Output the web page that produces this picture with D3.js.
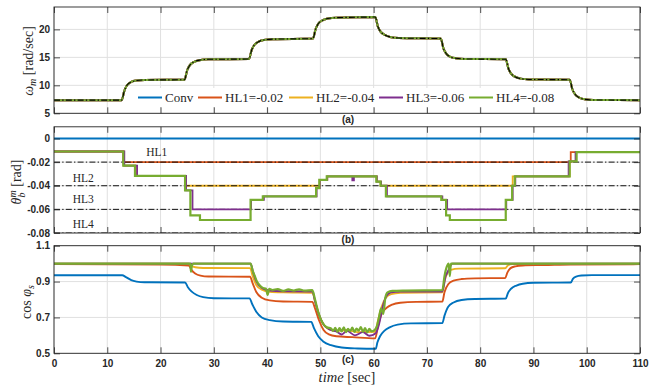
<!DOCTYPE html>
<html>
<head>
<meta charset="utf-8">
<script src="https://cdn.jsdelivr.net/npm/d3@7"></script>
<style>
  body { margin: 0; background: #fff; }
  svg { display: block; }
  .tick text { font-family: "Liberation Sans", Arial, sans-serif; font-weight: bold; font-size: 10px; fill: #262626; }
  .serif { font-family: "Liberation Serif", "Times New Roman", serif; fill: #262626; }
  .ptitle { font-family: "Liberation Sans", Arial, sans-serif; font-weight: bold; font-size: 10px; fill: #262626; }
</style>
</head>
<body>
<svg id="chart" width="649" height="390"></svg>
<script>
// ---- data ----
const timeTicks = [0, 10, 20, 30, 40, 50, 60, 70, 80, 90, 100, 110];
const seriesNames = ["Conv", "HL1=-0.02", "HL2=-0.04", "HL3=-0.06", "HL4=-0.08"];
const seriesColors = ["#0072BD", "#D95319", "#EDB120", "#7E2F8E", "#77AC30"];

const omegaTicks = [5, 10, 15, 20];
const omegaTickLabels = ["5", "10", "15", "20"];
const thetaTicks = [-0.08, -0.06, -0.04, -0.02, 0];
const thetaTickLabels = ["-0.08", "-0.06", "-0.04", "-0.02", "0"];
const cosTicks = [0.5, 0.7, 0.9, 1.1];
const cosTickLabels = ["0.5", "0.7", "0.9", "1.1"];

const hlLimits = [-0.02, -0.04, -0.06, -0.08];
const hlNames = ["HL1", "HL2", "HL3", "HL4"];

// rotor speed [rad/sec], [time, value]; all five drives track it closely
const omegaMeasured = [
  [0, 7.35], [12.7, 7.35], [13.2, 9.0], [13.7, 10.0], [14.5, 10.6], [15.5, 10.85], [17, 10.95], [24.5, 11.0],
  [25.0, 12.7], [25.5, 13.6], [26.3, 14.2], [27.3, 14.5], [29, 14.65], [36.6, 14.7],
  [37.1, 16.3], [37.6, 17.2], [38.4, 17.8], [39.4, 18.1], [41, 18.25], [48.6, 18.35],
  [49.1, 20.0], [49.6, 21.0], [50.4, 21.6], [51.4, 21.95], [53, 22.1], [60.3, 22.2],
  [60.8, 20.5], [61.3, 19.6], [62.1, 19.0], [63.1, 18.65], [64.7, 18.45], [72.6, 18.35],
  [73.1, 16.6], [73.6, 15.7], [74.4, 15.1], [75.4, 14.85], [77, 14.72], [84.8, 14.65],
  [85.3, 13.0], [85.8, 12.1], [86.6, 11.5], [87.6, 11.2], [89.2, 11.05], [96.8, 11.0],
  [97.3, 9.3], [97.8, 8.4], [98.6, 7.8], [99.6, 7.5], [101.2, 7.38], [110, 7.35]
];
const omegaReference = [
  [0, 7.35], [12.7, 7.35], [13.2, 9.0], [13.7, 10.0], [14.5, 10.6], [15.5, 10.85], [17, 10.95], [24.5, 11.0],
  [25.0, 12.7], [25.5, 13.6], [26.3, 14.2], [27.3, 14.5], [29, 14.65], [36.6, 14.7],
  [37.1, 16.3], [37.6, 17.2], [38.4, 17.8], [39.4, 18.1], [41, 18.25], [48.6, 18.35],
  [49.1, 20.0], [49.6, 21.0], [50.4, 21.6], [51.4, 21.95], [53, 22.1], [60.3, 22.2],
  [60.8, 20.5], [61.3, 19.6], [62.1, 19.0], [63.1, 18.65], [64.7, 18.45], [72.6, 18.35],
  [73.1, 16.6], [73.6, 15.7], [74.4, 15.1], [75.4, 14.85], [77, 14.72], [84.8, 14.65],
  [85.3, 13.0], [85.8, 12.1], [86.6, 11.5], [87.6, 11.2], [89.2, 11.05], [96.8, 11.0],
  [97.3, 9.3], [97.8, 8.4], [98.6, 7.8], [99.6, 7.5], [101.2, 7.38], [110, 7.35]
];

// pitch angle [rad], step-wise [time, value]
const thetaConv = [[0, 0], [110, 0]];
const thetaHL1 = [[0, -0.011], [13.0, -0.02], [97.0, -0.0115], [110, -0.0115]];
const thetaHL2 = [
  [0, -0.011], [13.1, -0.023], [15.4, -0.0316], [24.7, -0.04], [49.9, -0.035], [51.3, -0.032],
  [60.6, -0.0365], [61.3, -0.04], [86.1, -0.032], [96.8, -0.0194], [98.0, -0.0115], [110, -0.0115]
];
const thetaHL3 = [
  [0, -0.011], [13.2, -0.023], [15.6, -0.0316], [24.8, -0.044], [26.0, -0.06], [37.0, -0.052],
  [39.4, -0.049], [49.3, -0.042], [49.9, -0.035], [51.3, -0.032], [56.0, -0.0355], [56.3, -0.032],
  [60.6, -0.0365], [61.4, -0.04], [62.5, -0.049], [72.9, -0.052], [73.8, -0.06], [84.9, -0.052],
  [86.1, -0.04], [86.6, -0.032], [96.6, -0.0194], [97.9, -0.0115], [110, -0.0115]
];
const thetaHL4 = [
  [0, -0.011], [13.0, -0.023], [15.2, -0.0316], [24.6, -0.044], [25.6, -0.065], [27.4, -0.069],
  [36.9, -0.052], [39.2, -0.049], [49.2, -0.042], [49.8, -0.035], [51.2, -0.032], [60.5, -0.0365],
  [61.3, -0.04], [62.3, -0.049], [72.7, -0.052], [73.6, -0.065], [74.3, -0.069], [84.8, -0.052],
  [86.0, -0.04], [86.5, -0.032], [96.8, -0.0194], [98.1, -0.0115], [110, -0.0115]
];

// stator power factor, [time, value]
const cosConv = [
  [0, 0.935], [12.8, 0.935], [13.5, 0.925], [14.5, 0.908], [15.5, 0.90], [17, 0.896], [24.6, 0.895],
  [25.1, 0.87], [25.8, 0.845], [26.8, 0.825], [28, 0.813], [30, 0.807], [36.7, 0.806],
  [37.2, 0.775], [38, 0.73], [39, 0.70], [40.5, 0.685], [43, 0.677], [48.3, 0.675],
  [48.8, 0.64], [49.6, 0.595], [50.6, 0.565], [52, 0.545], [54, 0.532], [57, 0.527], [60.4, 0.525],
  [60.7, 0.56], [61.2, 0.595], [62, 0.625], [63, 0.645], [64.5, 0.66], [67, 0.667], [72.9, 0.668],
  [73.3, 0.71], [74, 0.76], [75, 0.783], [76.5, 0.797], [79, 0.803], [84.8, 0.805],
  [85.2, 0.835], [85.8, 0.86], [86.8, 0.878], [88, 0.888], [90, 0.893], [97, 0.895],
  [97.4, 0.915], [98, 0.928], [99, 0.934], [101, 0.936], [110, 0.936]
];
const cosHL1 = [
  [0, 0.997], [20, 0.995], [25.3, 0.99], [25.8, 0.965], [26.5, 0.945], [27.5, 0.933], [29, 0.928], [36.8, 0.927],
  [37.3, 0.89], [38, 0.84], [39, 0.81], [40.5, 0.795], [43, 0.789], [48.5, 0.787],
  [49, 0.75], [49.8, 0.68], [50.6, 0.63], [51.6, 0.605], [53, 0.595], [56, 0.59], [60.3, 0.583],
  [60.8, 0.65], [61.5, 0.72], [62.5, 0.755], [63.5, 0.772], [65, 0.782], [68, 0.787], [72.9, 0.788],
  [73.3, 0.84], [74, 0.885], [75, 0.905], [76.5, 0.914], [79, 0.918], [84.7, 0.92],
  [85.1, 0.95], [85.7, 0.975], [86.6, 0.985], [88, 0.99], [92, 0.992], [97, 0.995], [110, 0.997]
];
const cosHL2 = [
  [0, 1.0], [25.3, 1.0], [25.7, 0.99], [26.5, 0.98], [28, 0.976], [36.8, 0.975],
  [37.3, 0.93], [38, 0.88], [39, 0.855], [40.5, 0.843], [43, 0.84], [48.5, 0.838],
  [49, 0.79], [49.8, 0.71], [50.6, 0.66], [51.6, 0.635], [53, 0.625], [55, 0.63], [57, 0.618], [60.3, 0.62],
  [60.8, 0.68], [61.5, 0.76], [62.3, 0.81], [63.3, 0.83], [65, 0.838], [72.9, 0.84],
  [73.3, 0.9], [73.9, 0.95], [74.5, 0.965], [76, 0.972], [84.7, 0.974], [85.2, 0.99], [86, 0.998], [110, 1.0]
];
const cosHL3 = [
  [0, 1.0], [36.9, 1.0], [37.4, 0.95], [38, 0.9], [39, 0.865], [40.5, 0.85], [43, 0.846], [48.5, 0.845],
  [49, 0.79], [49.8, 0.71], [50.6, 0.66], [51.6, 0.635], [53, 0.622], [54, 0.605], [55, 0.625],
  [56.5, 0.60], [58, 0.618], [59.2, 0.598], [60.4, 0.612],
  [61, 0.66], [61.7, 0.76], [62.4, 0.82], [63.3, 0.84], [65, 0.845], [72.9, 0.845],
  [73.5, 0.93], [74.0, 0.96], [74.8, 1.0], [110, 1.0]
];
const cosHL4 = [
  [0, 1.0], [25.6, 1.0], [25.7, 0.955], [25.9, 0.99], [26.2, 1.0], [36.9, 1.0],
  [37.3, 0.96], [37.7, 0.93], [38.1, 0.90], [38.6, 0.88], [39.2, 0.865], [39.8, 0.86], [40.1, 0.825],
  [40.4, 0.86], [41, 0.853], [42, 0.858], [43, 0.848], [44, 0.856], [45, 0.85], [46, 0.857], [47, 0.849], [48.5, 0.852],
  [49, 0.8], [49.6, 0.73], [50.4, 0.67], [51.2, 0.645], [52, 0.638], [52.4, 0.625], [52.8, 0.642],
  [53.2, 0.62], [53.6, 0.64], [54, 0.622], [54.4, 0.645], [54.8, 0.618], [55.2, 0.636], [55.6, 0.624],
  [56, 0.643], [56.4, 0.619], [56.8, 0.638], [57.2, 0.626], [57.6, 0.646], [58, 0.62], [58.4, 0.64],
  [58.8, 0.617], [59.2, 0.637], [59.6, 0.622], [60.2, 0.63],
  [60.6, 0.65], [61.0, 0.70], [61.4, 0.75], [61.8, 0.72], [62.2, 0.81], [62.6, 0.84], [63.5, 0.848],
  [66, 0.85], [72.9, 0.852], [73.3, 0.93], [73.7, 0.98], [74.1, 1.0], [74.3, 0.93], [74.5, 1.0], [110, 1.0]
];

// ---- layout ----
const svg = d3.select("#chart");
const plotLeft = 54, plotRight = 640;
const ink = "#262626", gridColor = "#e0e0e0";
const x = d3.scaleLinear().domain([0, 110]).range([plotLeft, plotRight]);

svg.append("rect").attr("width", 649).attr("height", 390).attr("fill", "#fff");

function makePanel(id, top, bottom, domain, yTicks, yLabels, showXLabels) {
  const y = d3.scaleLinear().domain(domain).range([bottom, top]);
  const g = svg.append("g");
  const grid = g.append("g").attr("stroke", gridColor).attr("stroke-width", 1);
  grid.selectAll("line.v").data(timeTicks).join("line").attr("class", "v")
    .attr("x1", d => x(d)).attr("x2", d => x(d)).attr("y1", top).attr("y2", bottom);
  grid.selectAll("line.h").data(yTicks).join("line").attr("class", "h")
    .attr("x1", plotLeft).attr("x2", plotRight).attr("y1", d => y(d)).attr("y2", d => y(d));

  svg.append("clipPath").attr("id", "clip-" + id).append("rect")
    .attr("x", plotLeft).attr("y", top).attr("width", plotRight - plotLeft).attr("height", bottom - top);
  const plot = g.append("g").attr("clip-path", `url(#clip-${id})`);

  const ax = g.append("g");
  ax.append("g").attr("transform", `translate(0,${bottom})`)
    .call(d3.axisBottom(x).tickValues(timeTicks).tickSize(-6).tickPadding(6.5)
      .tickFormat(d => showXLabels ? String(d) : ""));
  ax.append("g").attr("transform", `translate(0,${top})`)
    .call(d3.axisTop(x).tickValues(timeTicks).tickSize(-6).tickFormat(""));
  ax.append("g").attr("transform", `translate(${plotLeft},0)`)
    .call(d3.axisLeft(y).tickValues(yTicks).tickSize(-6).tickPadding(4).tickFormat((d, i) => yLabels[i]));
  ax.append("g").attr("transform", `translate(${plotRight},0)`)
    .call(d3.axisRight(y).tickValues(yTicks).tickSize(-6).tickFormat(""));
  ax.selectAll(".domain").remove();
  ax.selectAll(".tick line").attr("stroke", ink).attr("stroke-width", 0.8);
  ax.append("rect").attr("x", plotLeft).attr("y", top)
    .attr("width", plotRight - plotLeft).attr("height", bottom - top)
    .attr("fill", "none").attr("stroke", ink).attr("stroke-width", 0.9);
  return { g, plot, ax, y };
}

const dashDot = "6,2.2,1.4,2.2";

// ---- (a) rotor speed ----
const pa = makePanel("a", 7, 113.3, [5, 24], omegaTicks, omegaTickLabels, false);
const lineA = d3.line().x(d => x(d[0])).y(d => pa.y(d[1])).curve(d3.curveMonotoneX);
seriesColors.forEach(c => {
  pa.plot.append("path").datum(omegaMeasured).attr("d", lineA)
    .attr("fill", "none").attr("stroke", c).attr("stroke-width", 2);
});
pa.plot.append("path").datum(omegaReference).attr("d", lineA)
  .attr("fill", "none").attr("stroke", "#000").attr("stroke-width", 1.1).attr("stroke-dasharray", dashDot);

// legend
const legend = pa.g.append("g");
legend.append("rect").attr("x", 130).attr("y", 88).attr("width", 434).attr("height", 19).attr("fill", "#fff");
const legendX = [138, 198, 289, 379, 469];
seriesNames.forEach((name, i) => {
  const lx = legendX[i];
  legend.append("line").attr("x1", lx).attr("x2", lx + 24).attr("y1", 97.5).attr("y2", 97.5)
    .attr("stroke", seriesColors[i]).attr("stroke-width", 2);
  legend.append("text").attr("class", "serif").attr("x", lx + 27).attr("y", 101.8)
    .attr("font-size", 13).text(name);
});
pa.ax.raise();

// ---- (b) pitch angle ----
const pb = makePanel("b", 126.8, 233, [-0.08, 0.0099], thetaTicks, thetaTickLabels, false);
const lineB = d3.line().x(d => x(d[0])).y(d => pb.y(d[1])).curve(d3.curveStepAfter);
const drawTheta = (data, color, w) => pb.plot.append("path").datum(data).attr("d", lineB)
  .attr("fill", "none").attr("stroke", color).attr("stroke-width", w);
drawTheta(thetaConv, seriesColors[0], 1.8);
drawTheta(thetaHL1, seriesColors[1], 1.8);
drawTheta(thetaHL2, seriesColors[2], 1.8);
pb.plot.selectAll("line.hl").data(hlLimits).join("line").attr("class", "hl")
  .attr("x1", plotLeft).attr("x2", plotRight).attr("y1", d => pb.y(d)).attr("y2", d => pb.y(d))
  .attr("stroke", "#111").attr("stroke-width", 1).attr("stroke-dasharray", dashDot);
drawTheta(thetaHL3, seriesColors[3], 1.8);
drawTheta(thetaHL4, seriesColors[4], 2.2);
const hlLabelPos = [[17.3, -0.0145], [3.5, -0.0368], [3.5, -0.0548], [3.5, -0.0755]];
hlNames.forEach((n, i) => {
  pb.g.append("text").attr("class", "serif").attr("font-size", 11.5)
    .attr("x", x(hlLabelPos[i][0])).attr("y", pb.y(hlLabelPos[i][1])).text(n);
});
pb.ax.raise();

// ---- (c) power factor ----
const pc = makePanel("c", 245.7, 353.3, [0.5, 1.1], cosTicks, cosTickLabels, true);
const lineC = d3.line().x(d => x(d[0])).y(d => pc.y(d[1])).curve(d3.curveMonotoneX);
[cosConv, cosHL1, cosHL2, cosHL3, cosHL4].forEach((data, i) => {
  pc.plot.append("path").datum(data).attr("d", lineC)
    .attr("fill", "none").attr("stroke", seriesColors[i]).attr("stroke-width", i === 4 ? 2.2 : 1.9);
});

// panel tags
[["(a)", 122.5], ["(b)", 242.8], ["(c)", 362.8]].forEach(([t, yy]) => {
  svg.append("text").attr("class", "ptitle").attr("x", 348).attr("y", yy)
    .attr("text-anchor", "middle").text(t);
});

// axis titles
function yTitle(cx, cy) {
  return svg.append("text").attr("class", "serif").attr("font-size", 14)
    .attr("text-anchor", "middle").attr("transform", `translate(${cx},${cy}) rotate(-90)`);
}
const ta = yTitle(33, 61);
ta.append("tspan").attr("font-style", "italic").text("ω");
ta.append("tspan").attr("font-style", "italic").attr("font-size", 10).attr("dy", 3).text("m");
ta.append("tspan").attr("dy", -3).text(" [rad/sec]");

const tb = yTitle(21, 182);
tb.append("tspan").attr("font-style", "italic").text("θ");
tb.append("tspan").attr("font-style", "italic").attr("font-size", 10).attr("dy", 3.5).text("b");
tb.append("tspan").attr("font-style", "italic").attr("font-size", 10).attr("dx", -5).attr("dy", -9).text("m");
tb.append("tspan").attr("dy", 5.5).text(" [rad]");

const tc = yTitle(30.5, 302);
tc.append("tspan").text("cos ");
tc.append("tspan").attr("font-style", "italic").text("φ");
tc.append("tspan").attr("font-style", "italic").attr("font-size", 10).attr("dy", 3).text("s");

const tx = svg.append("text").attr("class", "serif").attr("font-size", 14.5)
  .attr("text-anchor", "middle").attr("x", 347).attr("y", 382);
tx.append("tspan").attr("font-style", "italic").text("time");
tx.append("tspan").text(" [sec]");
</script>
</body>
</html>
